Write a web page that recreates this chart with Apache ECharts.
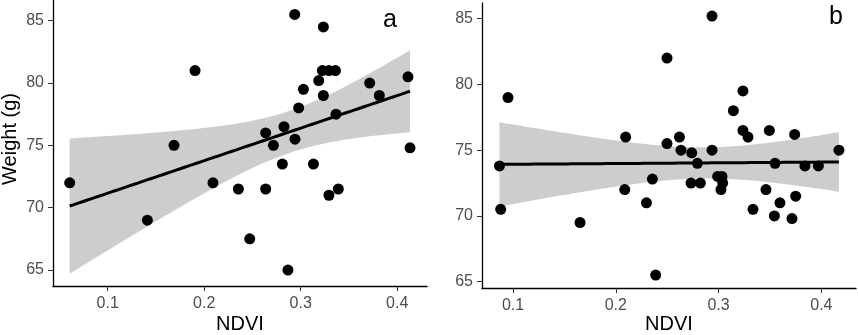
<!DOCTYPE html>
<html>
<head>
<meta charset="utf-8">
<script src="https://cdn.jsdelivr.net/npm/echarts@6/dist/echarts.min.js"></script>
<style>
  html, body { margin: 0; padding: 0; background: #fff; }
  #chart { width: 858px; height: 335px; }
</style>
</head>
<body>
<div id="chart"></div>
<script>
// panel a
var ndviA = [0.0606, 0.1411, 0.1687, 0.1905, 0.2091, 0.2354, 0.2472, 0.2637, 0.2637, 0.2717,
    0.2810, 0.2827, 0.2868, 0.2938, 0.2941, 0.2979, 0.3028, 0.3132, 0.3187, 0.3235,
    0.3225, 0.3235, 0.3293, 0.3293, 0.3360, 0.3366, 0.3390, 0.3715, 0.3815, 0.4112, 0.4133];
var weightA = [72, 69, 75, 81, 72, 71.5, 67.5, 76, 71.5, 75,
    73.5, 76.5, 65, 85.5, 75.5, 78, 79.5, 73.5, 80.2, 84.5,
    81, 79, 81, 71, 81, 77.5, 71.5, 80, 79, 80.5, 74.8];

// panel b
var ndviB = [0.0868, 0.0880, 0.0951, 0.1652, 0.2087, 0.2096, 0.2298, 0.2356, 0.2388, 0.2498,
    0.2498, 0.2619, 0.2634, 0.2732, 0.2738, 0.2794, 0.2823, 0.2936, 0.2936, 0.2991,
    0.3023, 0.3033, 0.3040, 0.3144, 0.3237, 0.3237, 0.3286, 0.3335, 0.3461, 0.3494,
    0.3543, 0.3549, 0.3597, 0.3714, 0.3740, 0.3750, 0.3840, 0.3971, 0.4171];
var weightB = [73.8, 70.5, 79, 69.5, 72, 76, 71, 72.8, 65.5, 82,
    75.5, 76, 75, 72.5, 74.8, 74, 72.5, 85.2, 75, 73,
    72, 73, 72.5, 78, 79.5, 76.5, 76, 70.5, 72, 76.5,
    70, 74, 71, 69.8, 76.2, 71.5, 73.8, 73.8, 75];

var xTicks = [0.1, 0.2, 0.3, 0.4];
var yTicks = [65, 70, 75, 80, 85];

// linear fit + 95% confidence band (like geom_smooth(method = 'lm'))
function fitLm(xs, ys, tq) {
    var n = xs.length, mx = 0, my = 0;
    for (var i = 0; i < n; i++) { mx += xs[i]; my += ys[i]; }
    mx /= n; my /= n;
    var sxx = 0, sxy = 0;
    for (i = 0; i < n; i++) {
        sxx += (xs[i] - mx) * (xs[i] - mx);
        sxy += (xs[i] - mx) * (ys[i] - my);
    }
    var b = sxy / sxx, a = my - b * mx, sse = 0;
    for (i = 0; i < n; i++) {
        var r = ys[i] - (a + b * xs[i]);
        sse += r * r;
    }
    var s = Math.sqrt(sse / (n - 2));
    var lo = Math.min.apply(null, xs), hi = Math.max.apply(null, xs);
    var line = [], upper = [], lower = [];
    for (var k = 0; k <= 80; k++) {
        var x = lo + (hi - lo) * k / 80;
        var yh = a + b * x;
        var se = s * Math.sqrt(1 / n + (x - mx) * (x - mx) / sxx);
        line.push([x, yh]);
        upper.push([x, yh + tq * se]);
        lower.push([x, yh - tq * se]);
    }
    return { line: line, upper: upper, lower: lower };
}

var fitA = fitLm(ndviA, weightA, 2.045);
var fitB = fitLm(ndviB, weightB, 2.026);

function bandSeries(fit, idx) {
    var poly = fit.upper.concat(fit.lower.slice().reverse());
    return {
        type: 'custom',
        xAxisIndex: idx,
        yAxisIndex: idx,
        silent: true,
        z: 1,
        data: [0],
        renderItem: function (params, api) {
            return {
                type: 'polygon',
                shape: { points: poly.map(function (p) { return api.coord(p); }) },
                style: { fill: '#cdcdcd' }
            };
        }
    };
}

function xAxisCfg(idx, min, max, gap) {
    return {
        type: 'value',
        gridIndex: idx,
        min: min,
        max: max,
        name: 'NDVI',
        nameLocation: 'middle',
        nameGap: gap,
        nameMoveOverlap: false,
        nameTextStyle: { fontFamily: 'Liberation Sans', fontSize: 20, color: '#000' },
        splitLine: { show: false },
        axisLine: { onZero: false, lineStyle: { color: '#000', width: 1.3 } },
        axisTick: { customValues: xTicks, length: 5, lineStyle: { color: '#333' } },
        axisLabel: {
            customValues: xTicks,
            margin: 10,
            fontFamily: 'Liberation Sans',
            fontSize: 16,
            color: '#4d4d4d'
        }
    };
}

function yAxisCfg(idx, min, max, name) {
    return {
        type: 'value',
        gridIndex: idx,
        min: min,
        max: max,
        name: name,
        nameLocation: 'middle',
        nameGap: 33,
        nameMoveOverlap: false,
        nameTextStyle: { fontFamily: 'Liberation Sans', fontSize: 20, color: '#000', padding: [0, 0, 0, 8] },
        splitLine: { show: false },
        axisLine: { onZero: false, lineStyle: { color: '#000', width: 1.3 } },
        axisTick: { customValues: yTicks, length: 5, lineStyle: { color: '#333' } },
        axisLabel: {
            customValues: yTicks,
            margin: 9,
            fontFamily: 'Liberation Sans',
            fontSize: 16,
            color: '#4d4d4d'
        }
    };
}

function pointSeries(xs, ys, idx) {
    return {
        type: 'scatter',
        xAxisIndex: idx,
        yAxisIndex: idx,
        symbolSize: 11,
        z: 3,
        itemStyle: { color: '#000', opacity: 1 },
        data: xs.map(function (x, i) { return [x, ys[i]]; })
    };
}

function lineSeries(fit, idx) {
    return {
        type: 'line',
        xAxisIndex: idx,
        yAxisIndex: idx,
        symbol: 'none',
        z: 2,
        lineStyle: { color: '#000', width: 3 },
        data: fit.line
    };
}

var option = {
    animation: false,
    backgroundColor: '#fff',
    grid: [
        { left: 53, top: 0, width: 374, height: 286, containLabel: false, outerBoundsMode: 'none' },
        { left: 482, top: 3, width: 374, height: 285, containLabel: false, outerBoundsMode: 'none' }
    ],
    xAxis: [xAxisCfg(0, 0.0433, 0.4309, 28), xAxisCfg(1, 0.0698, 0.4337, 26)],
    yAxis: [yAxisCfg(0, 63.72, 86.66, 'Weight (g)'), yAxisCfg(1, 64.52, 86.19, '')],
    graphic: [
        { type: 'text', left: 383, top: 8, style: { text: 'a', fontFamily: 'Liberation Sans', fontSize: 25, fill: '#000' } },
        { type: 'text', left: 829, top: 5, style: { text: 'b', fontFamily: 'Liberation Sans', fontSize: 25, fill: '#000' } }
    ],
    series: [
        bandSeries(fitA, 0),
        lineSeries(fitA, 0),
        pointSeries(ndviA, weightA, 0),
        bandSeries(fitB, 1),
        lineSeries(fitB, 1),
        pointSeries(ndviB, weightB, 1)
    ]
};

var chart = echarts.init(document.getElementById('chart'));
chart.setOption(option);
</script>
</body>
</html>
